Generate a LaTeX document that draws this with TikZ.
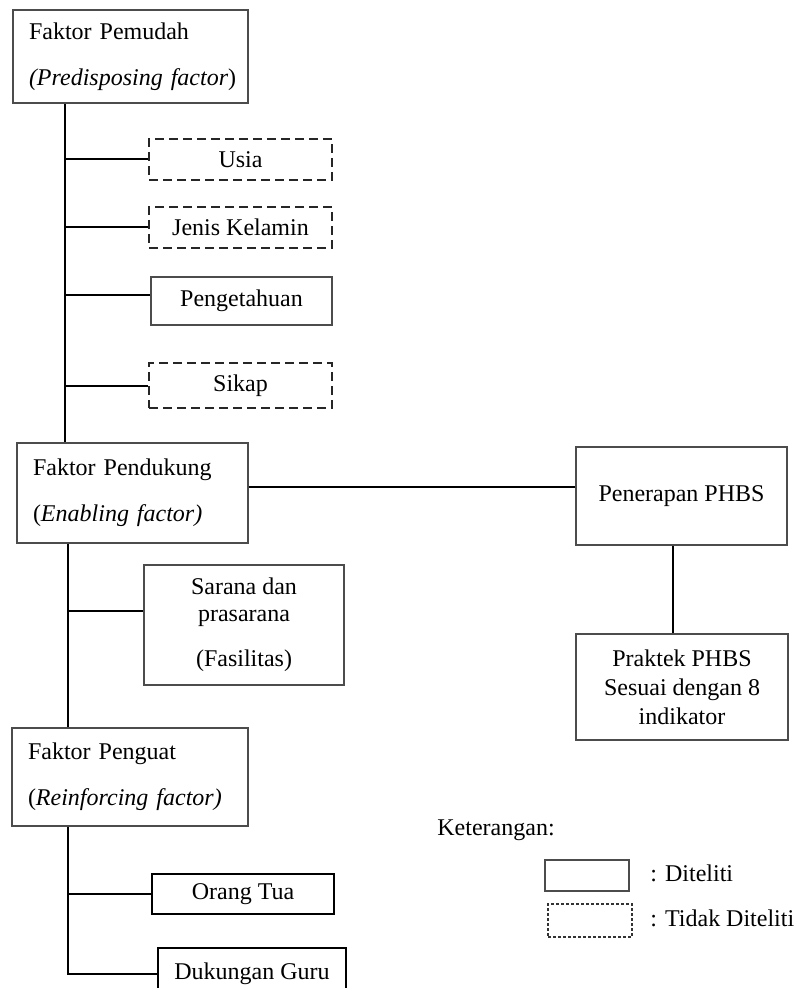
\documentclass[tikz,border=0pt]{standalone}
\usepackage{fontspec}
\setmainfont{Liberation Serif}
\begin{document}
\begin{tikzpicture}[x=0.5pt,y=-0.5pt]

  \tikzstyle{factor}=[rectangle,draw=black!70,line width=0.6pt,align=left,inner xsep=8pt,inner ysep=0pt,font=\fontsize{12}{23}\selectfont]
  \tikzstyle{item}=[rectangle,draw=black!70,line width=0.6pt,align=center,inner sep=0pt,font=\fontsize{12}{14.5}\selectfont]
  \tikzstyle{notitem}=[item,draw=black!85,line width=1pt,dash pattern=on 4.5pt off 2.5pt]
  \tikzstyle{bolditem}=[item,draw=black,line width=1.2pt]
  \tikzstyle{link}=[line width=1pt]

  \useasboundingbox (0,0) rectangle (794,988);
  \clip (0,0) rectangle (794,988);

  \coordinate (trunkA) at (65,0);
  \coordinate (trunkB) at (68,0);

  \node[factor,text width=101.5pt,minimum height=46.5pt] (pemudah) at (130.5,56.5) {\mbox{Faktor Pemudah}\\\mbox{\textit{(Predisposing factor})}};
  \node[notitem,minimum width=91.5pt,minimum height=20.5pt] (usia) at (240.5,159.5) {Usia};
  \node[notitem,minimum width=91.5pt,minimum height=20.5pt] (jenis) at (240.5,227.5) {Jenis Kelamin};
  \node[item,minimum width=90.5pt,minimum height=24pt] (pengetahuan) at (241.5,301) {Pengetahuan};
  \node[notitem,minimum width=91.5pt,minimum height=22.5pt] (sikap) at (240.5,385.5) {Sikap};

  \node[factor,text width=99.5pt,minimum height=50pt] (pendukung) at (132.5,493) {\mbox{Faktor Pendukung}\\\mbox{(\textit{Enabling factor)}}};
  \node[item,minimum width=100pt,minimum height=60pt,font=\fontsize{12}{13.5}\selectfont] (sarana) at (244,625) {Sarana dan\\prasarana\\[9pt](Fasilitas)};

  \node[factor,text width=102pt,minimum height=49pt] (penguat) at (130,777) {\mbox{Faktor Penguat}\\\mbox{(\textit{Reinforcing factor)}}};
  \node[bolditem,minimum width=91pt,minimum height=20pt] (orangtua) at (243,894) {Orang Tua};
  \node[bolditem,minimum width=94pt,minimum height=26pt] (guru) at (252,974) {Dukungan Guru};

  \node[item,minimum width=105.5pt,minimum height=49pt] (penerapan) at (681.5,496) {Penerapan PHBS};
  \node[item,minimum width=106pt,minimum height=53pt] (praktek) at (682,687) {Praktek PHBS\\Sesuai dengan 8\\indikator};

  % keterangan
  \node[anchor=base west,inner sep=0pt,font=\fontsize{12}{14.5}\selectfont] (ket) at (437,835) {Keterangan:};
  \node[item,minimum width=42pt,minimum height=15.5pt] (diteliti) at (587,875.5) {};
  \node[item,draw=black!80,dash pattern=on 1.5pt off 1pt,minimum width=42pt,minimum height=16.5pt] (tidak) at (590,920.5) {};
  \node[anchor=base west,inner sep=0pt,font=\fontsize{12}{14.5}\selectfont] (diteliti text) at (650,881) {: Diteliti};
  \node[anchor=base west,inner sep=0pt,font=\fontsize{12}{14.5}\selectfont] (tidak text) at (650,926) {: Tidak Diteliti};

  \draw[link] (pemudah.south -| trunkA) -- (pendukung.north -| trunkA);
  \foreach \n in {usia,jenis,sikap}
    \draw[link] (\n.west -| trunkA) -- (\n.west);
  \draw[link] ([yshift=3pt]pengetahuan.west -| trunkA) -- ([yshift=3pt]pengetahuan.west);

  \draw[link] (pendukung.south -| trunkB) -- (penguat.north -| trunkB);
  \draw[link] ([yshift=7pt]sarana.west -| trunkB) -- ([yshift=7pt]sarana.west);

  \draw[link] (penguat.south -| trunkB) |- (guru.west);
  \draw[link] (orangtua.west -| trunkB) -- (orangtua.west);

  \draw[link] ([yshift=4.5pt]penerapan.west -| pendukung.east) -- ([yshift=4.5pt]penerapan.west);
  \draw[link] ([xshift=-4.5pt]penerapan.south) -- ([xshift=-4.5pt]penerapan.south |- praktek.north);

  %\draw[step=50,gray,very thin] (0,0) grid (794,988);

\end{tikzpicture}
\end{document}
